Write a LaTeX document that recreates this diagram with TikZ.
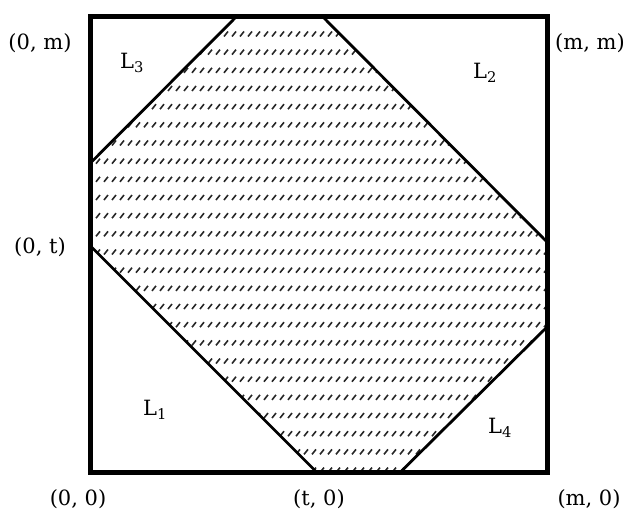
\documentclass[tikz,border=0pt]{standalone}
\usepackage{fontspec}
\setmainfont{DejaVu Serif}
\begin{document}
\begin{tikzpicture}[x=1pt,y=-1pt,
  frame/.style={line width=5pt, line join=miter},
  cut/.style={line width=2.8pt, line cap=round},
  lbl/.style={font=\fontsize{21}{25}\selectfont, inner sep=0pt},
  hatch/.style={line width=1.6pt, black!85}]
\useasboundingbox (0,0) rectangle (626,512);
% square corners
\coordinate (SW) at (90.5,472.5);
\coordinate (SE) at (547,472.5);
\coordinate (NE) at (547,16);
\coordinate (NW) at (90.5,16);
% polygon vertices
\coordinate (TL) at (237,16);
\coordinate (TR) at (322,16);
\coordinate (RU) at (547,242);
\coordinate (RL) at (547,327);
\coordinate (BR) at (400,472.5);
\coordinate (BL) at (317,472.5);
\coordinate (LL) at (90.5,246);
\coordinate (LU) at (90.5,163);
% hatching
\begin{scope}
\clip (TL) -- (TR) -- (RU) -- (RL) -- (BR) -- (BL) -- (LL) -- (LU) -- cycle;
\foreach \r in {0,...,25} {
  \foreach \c in {0,...,57} {
    \draw[hatch] ({88+8*\c},{18.3+18.17*\r}) -- ++(4,-5);
  }
}
\end{scope}
% cut lines
\draw[cut] (TL) -- (LU);
\draw[cut] (TR) -- (RU);
\draw[cut] (LL) -- (BL);
\draw[cut] (BR) -- (RL);
% square
\draw[frame] (SW) -- (SE) -- (NE) -- (NW) -- cycle;
% labels
\node[lbl] (l0m) at (40,43) {(0, m)};
\node[lbl] (lmm) at (590,43) {(m, m)};
\node[lbl] (l0t) at (40,247) {(0, t)};
\node[lbl] (l00) at (78,499) {(0, 0)};
\node[lbl] (lt0) at (319,499) {(t, 0)};
\node[lbl] (lm0) at (589,499) {(m, 0)};
\node[lbl] (L3) at (132,63) {L\textsubscript{3}};
\node[lbl] (L2) at (485,73) {L\textsubscript{2}};
\node[lbl] (L1) at (155,410) {L\textsubscript{1}};
\node[lbl] (L4) at (500,428) {L\textsubscript{4}};
\end{tikzpicture}
\end{document}
